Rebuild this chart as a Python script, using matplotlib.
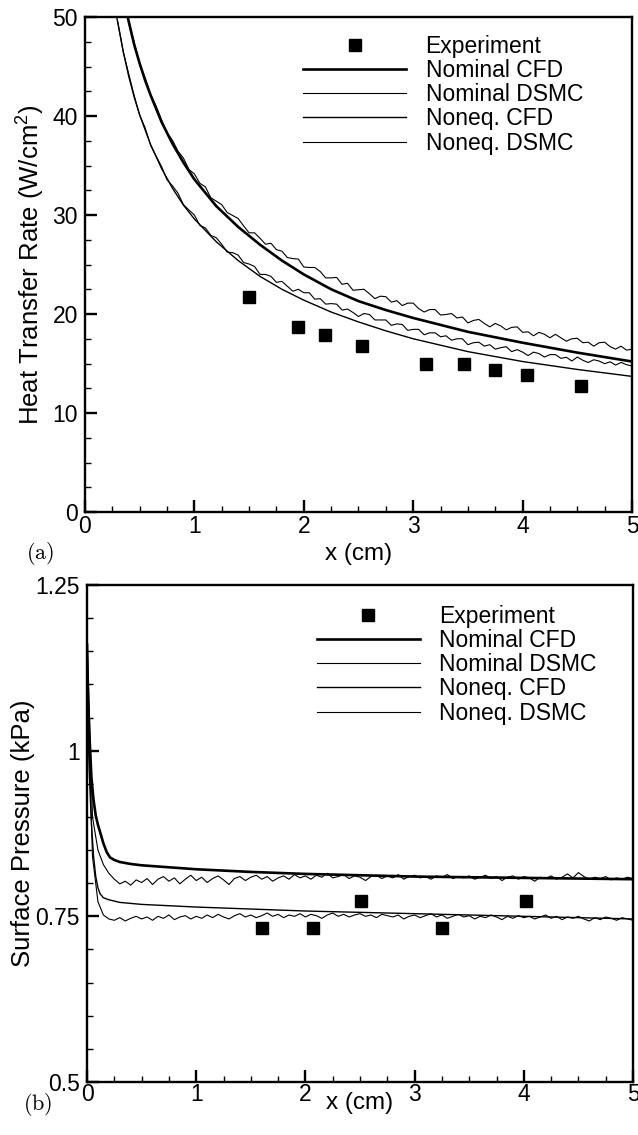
"""Heat transfer rate (a) and surface pressure (b) along the plate:
experiment vs nominal / nonequilibrium CFD and DSMC.
"""
import numpy as np

import matplotlib
matplotlib.use("Agg")
import matplotlib.pyplot as plt
from matplotlib.ticker import MultipleLocator, FuncFormatter

plt.rcParams["font.family"] = ["Liberation Sans", "DejaVu Sans"]
plt.rcParams["mathtext.fontset"] = "custom"
plt.rcParams["mathtext.rm"] = "Liberation Sans"
plt.rcParams["mathtext.it"] = "Liberation Sans:italic"

LABELS = ["Experiment", "Nominal CFD", "Nominal DSMC", "Noneq. CFD", "Noneq. DSMC"]

# ---- (a) heat transfer rate, W/cm^2 ----
HT_EXP_X = [1.50, 1.95, 2.19, 2.53, 3.12, 3.46, 3.75, 4.04, 4.53]
HT_EXP_Y = [21.7, 18.7, 17.9, 16.8, 14.95, 14.95, 14.3, 13.8, 12.7]

HT_NOM_CFD_X = [0.39, 0.45, 0.5, 0.55, 0.6, 0.7, 0.8, 0.9, 1.0, 1.2, 1.4, 1.6, 1.8,
                2.0, 2.25, 2.5, 2.75, 3.0, 3.5, 4.0, 4.5, 5.0]
HT_NOM_CFD_Y = [50.0, 47.2, 45.3, 43.6, 42.1, 39.4, 37.2, 35.3, 33.6, 30.9, 28.8, 27.0, 25.4,
                24.0, 22.5, 21.3, 20.4, 19.6, 18.2, 17.1, 16.1, 15.2]

HT_NEQ_CFD_X = [0.29, 0.35, 0.4, 0.45, 0.5, 0.6, 0.7, 0.8, 0.9, 1.0, 1.2, 1.4, 1.6, 1.8,
                2.0, 2.25, 2.5, 2.75, 3.0, 3.5, 4.0, 4.5, 5.0]
HT_NEQ_CFD_Y = [50.0, 46.5, 44.0, 41.9, 40.1, 37.1, 34.7, 32.7, 31.0, 29.6, 27.3, 25.4, 23.8, 22.5,
                21.4, 20.2, 19.2, 18.3, 17.5, 16.2, 15.2, 14.4, 13.7]

# DSMC samples every 0.05 cm, from 0.40 (nominal) / 0.30 (noneq) to 5.00
HT_NOM_DSMC_Y = [
    49.6, 47.4, 45.3, 43.85, 42.15, 41.0, 39.6, 38.3, 37.55, 36.45,
    35.75, 34.6, 34.15, 33.2, 32.85, 31.75, 31.4, 31.05, 30.25, 29.95,
    29.65, 28.9, 28.2, 28.2, 27.65, 27.05, 27.15, 26.5, 26.35, 25.7,
    25.6, 25.55, 24.75, 24.7, 24.7, 24.3, 23.65, 23.65, 23.7, 23.0,
    23.1, 22.4, 22.45, 22.5, 22.05, 21.55, 21.8, 21.75, 21.2, 21.35,
    20.85, 21.1, 21.1, 20.55, 20.2, 20.45, 20.45, 19.9, 19.95, 20.05,
    19.6, 19.7, 19.1, 19.35, 19.45, 19.05, 18.7, 19.05, 18.8, 18.4,
    18.65, 18.7, 18.15, 18.2, 17.8, 18.15, 17.95, 17.6, 17.95, 17.6,
    17.25, 17.5, 17.55, 17.1, 17.15, 16.75, 17.1, 17.15, 16.7, 16.45,
    16.75, 16.35, 16.45,
]
HT_NEQ_DSMC_Y = [
    49.5, 46.45, 44.25, 42.05, 40.1, 38.8, 37.05, 35.95, 34.9, 33.55,
    32.95, 32.2, 31.05, 30.5, 30.0, 28.95, 28.7, 27.95, 27.7, 27.05,
    26.25, 26.2, 25.95, 25.2, 25.05, 24.8, 24.0, 24.0, 23.8, 23.2,
    23.3, 22.8, 22.3, 22.5, 22.15, 22.15, 21.5, 21.55, 21.0, 21.05,
    21.0, 20.4, 20.5, 20.15, 19.75, 20.05, 19.95, 19.4, 19.4, 19.4,
    18.85, 19.0, 18.95, 18.35, 18.45, 18.45, 17.9, 18.1, 18.1, 17.7,
    17.8, 17.35, 17.5, 17.5, 16.9, 17.1, 17.15, 16.75, 16.9, 16.45,
    16.6, 16.7, 16.2, 16.4, 16.15, 15.8, 16.15, 16.0, 15.65, 15.9,
    15.9, 15.52, 15.63, 15.25, 15.65, 15.33, 15.1, 15.38, 15.25, 14.98,
    15.17, 14.84, 15.11, 14.88, 14.75,
]

# ---- (b) surface pressure, kPa ----
SP_EXP_X = [1.60, 2.07, 2.51, 3.25, 4.02]
SP_EXP_Y = [0.733, 0.733, 0.773, 0.733, 0.773]

SP_NOM_CFD_X = [0.0, 0.01, 0.02, 0.04, 0.06, 0.08, 0.10, 0.12, 0.15, 0.18, 0.21, 0.25, 0.3,
                0.4, 0.5, 0.75, 1.0, 1.5, 2.0, 2.5, 3.0, 3.5, 4.0, 4.5, 5.0]
SP_NOM_CFD_Y = [1.16, 1.08, 1.03, 0.96, 0.925, 0.902, 0.888, 0.877, 0.860, 0.847, 0.839, 0.835, 0.832,
                0.829, 0.827, 0.824, 0.821, 0.817, 0.814, 0.812, 0.810, 0.809, 0.808, 0.807, 0.806]

SP_NEQ_CFD_X = [0.0, 0.01, 0.02, 0.04, 0.06, 0.08, 0.10, 0.12, 0.15, 0.2, 0.25, 0.3, 0.5,
                0.75, 1.0, 1.5, 2.0, 2.5, 3.0, 3.5, 4.0, 4.5, 5.0]
SP_NEQ_CFD_Y = [1.12, 1.03, 0.97, 0.89, 0.84, 0.81, 0.793, 0.784, 0.778, 0.775, 0.773, 0.771, 0.768,
                0.766, 0.764, 0.761, 0.758, 0.756, 0.754, 0.752, 0.750, 0.748, 0.746]

# DSMC samples every 0.05 cm from 0 to 5
SP_NOM_DSMC_Y = [
    1.17, 0.90, 0.85, 0.828, 0.815, 0.806, 0.799, 0.803, 0.797, 0.805,
    0.801, 0.807, 0.798, 0.806, 0.810, 0.803, 0.808, 0.799, 0.806, 0.812,
    0.804, 0.809, 0.801, 0.807, 0.811, 0.805, 0.798, 0.807, 0.810, 0.804,
    0.809, 0.812, 0.806, 0.810, 0.803, 0.808, 0.811, 0.806, 0.813, 0.808,
    0.811, 0.806, 0.812, 0.809, 0.815, 0.808, 0.810, 0.813, 0.807, 0.811,
    0.809, 0.804, 0.810, 0.812, 0.807, 0.811, 0.808, 0.813, 0.806, 0.810,
    0.812, 0.808, 0.810, 0.806, 0.811, 0.809, 0.813, 0.807, 0.810, 0.808,
    0.811, 0.806, 0.809, 0.812, 0.807, 0.810, 0.804, 0.809, 0.811, 0.806,
    0.810, 0.808, 0.803, 0.809, 0.807, 0.811, 0.806, 0.809, 0.814, 0.808,
    0.816, 0.810, 0.806, 0.809, 0.807, 0.810, 0.805, 0.808, 0.806, 0.809,
    0.807,
]
SP_NEQ_DSMC_Y = [
    1.12, 0.84, 0.772, 0.752, 0.746, 0.744, 0.748, 0.743, 0.747, 0.750,
    0.746, 0.749, 0.744, 0.750, 0.747, 0.752, 0.745, 0.749, 0.751, 0.746,
    0.750, 0.747, 0.752, 0.748, 0.753, 0.749, 0.746, 0.751, 0.754, 0.749,
    0.752, 0.748, 0.751, 0.755, 0.750, 0.753, 0.748, 0.752, 0.750, 0.754,
    0.749, 0.753, 0.751, 0.747, 0.752, 0.755, 0.750, 0.753, 0.749, 0.752,
    0.754, 0.750, 0.752, 0.748, 0.753, 0.751, 0.749, 0.752, 0.746, 0.750,
    0.752, 0.748, 0.751, 0.754, 0.749, 0.752, 0.747, 0.750, 0.753, 0.749,
    0.751, 0.746, 0.750, 0.748, 0.752, 0.749, 0.745, 0.750, 0.747, 0.751,
    0.748, 0.750, 0.746, 0.749, 0.752, 0.747, 0.750, 0.745, 0.749, 0.747,
    0.750, 0.746, 0.743, 0.748, 0.745, 0.749, 0.747, 0.744, 0.748, 0.746,
    0.744,
]

FS = 16.5


def style_axes(ax, xpad):
    for s in ax.spines.values():
        s.set_linewidth(1.7)
    ax.tick_params(which="both", direction="in", top=False, right=False, labelsize=FS)
    ax.tick_params(which="major", length=8.5, width=1.7)
    ax.tick_params(which="minor", length=4.3, width=1.0)
    ax.tick_params(axis="x", pad=xpad)
    ax.tick_params(axis="y", pad=5)
    ax.xaxis.set_major_locator(MultipleLocator(1))
    ax.xaxis.set_minor_locator(MultipleLocator(0.25))
    ax.set_xlim(0, 5)


def draw(ax, exp, nom_cfd, nom_dsmc, neq_cfd, neq_dsmc, legend_xy):
    ax.plot(*exp, "s", color="black", ms=8, ls="none", label=LABELS[0])
    ax.plot(*nom_cfd, color="black", lw=1.9, label=LABELS[1])
    ax.plot(*nom_dsmc, color="black", lw=0.8, label=LABELS[2])
    ax.plot(*neq_cfd, color="black", lw=1.0, label=LABELS[3])
    ax.plot(*neq_dsmc, color="black", lw=0.8, label=LABELS[4])
    ax.legend(loc="upper left", bbox_to_anchor=legend_xy, frameon=False,
              fontsize=FS, handlelength=4.5, handletextpad=0.85, labelspacing=0.05,
              borderpad=0, borderaxespad=0, numpoints=1)


fig = plt.figure(figsize=(6.38, 11.35), dpi=100)

# (a)
ax = fig.add_axes([0.1332, 0.5489, 0.8574, 0.4361])
x_nom = np.linspace(0.40, 5.0, len(HT_NOM_DSMC_Y))
x_neq = np.linspace(0.30, 5.0, len(HT_NEQ_DSMC_Y))
draw(ax, (HT_EXP_X, HT_EXP_Y), (HT_NOM_CFD_X, HT_NOM_CFD_Y), (x_nom, HT_NOM_DSMC_Y),
     (HT_NEQ_CFD_X, HT_NEQ_CFD_Y), (x_neq, HT_NEQ_DSMC_Y), (0.3985, 0.9636))
style_axes(ax, 2.5)
ax.set_ylim(0, 50)
ax.yaxis.set_major_locator(MultipleLocator(10))
ax.yaxis.set_minor_locator(MultipleLocator(2.5))
ax.set_ylabel("Heat Transfer Rate (W/cm$^2$)", fontsize=18.5)
ax.set_xlabel("x (cm)", fontsize=17.5)
ax.yaxis.set_label_coords(-0.07, 0.5)
ax.xaxis.set_label_coords(0.5, -0.063)
fig.text(40 / 638, 1 - 553 / 1135, r"$\mathrm{(a)}$", math_fontfamily="cm",
         fontsize=16, ha="center", va="center")

# (b)
ax = fig.add_axes([0.1364, 0.0467, 0.8558, 0.4379])
x_sp = np.linspace(0.0, 5.0, len(SP_NOM_DSMC_Y))
draw(ax, (SP_EXP_X, SP_EXP_Y), (SP_NOM_CFD_X, SP_NOM_CFD_Y), (x_sp, SP_NOM_DSMC_Y),
     (SP_NEQ_CFD_X, SP_NEQ_CFD_Y), (np.linspace(0.0, 5.0, len(SP_NEQ_DSMC_Y)), SP_NEQ_DSMC_Y),
     (0.421, 0.9598))
style_axes(ax, 1)
ax.set_ylim(0.5, 1.25)
ax.yaxis.set_major_locator(MultipleLocator(0.25))
ax.yaxis.set_minor_locator(MultipleLocator(0.05))
ax.yaxis.set_major_formatter(FuncFormatter(lambda v, _: f"{v:g}"))
ax.set_ylabel("Surface Pressure (kPa)", fontsize=18.5)
ax.set_xlabel("x (cm)", fontsize=17.5)
ax.yaxis.set_label_coords(-0.095, 0.5)
ax.xaxis.set_label_coords(0.5, -0.02)
fig.text(38 / 638, 1 - 1105 / 1135, r"$\mathrm{(b)}$", math_fontfamily="cm",
         fontsize=16, ha="center", va="center")

fig.savefig("out.png", dpi=100)
